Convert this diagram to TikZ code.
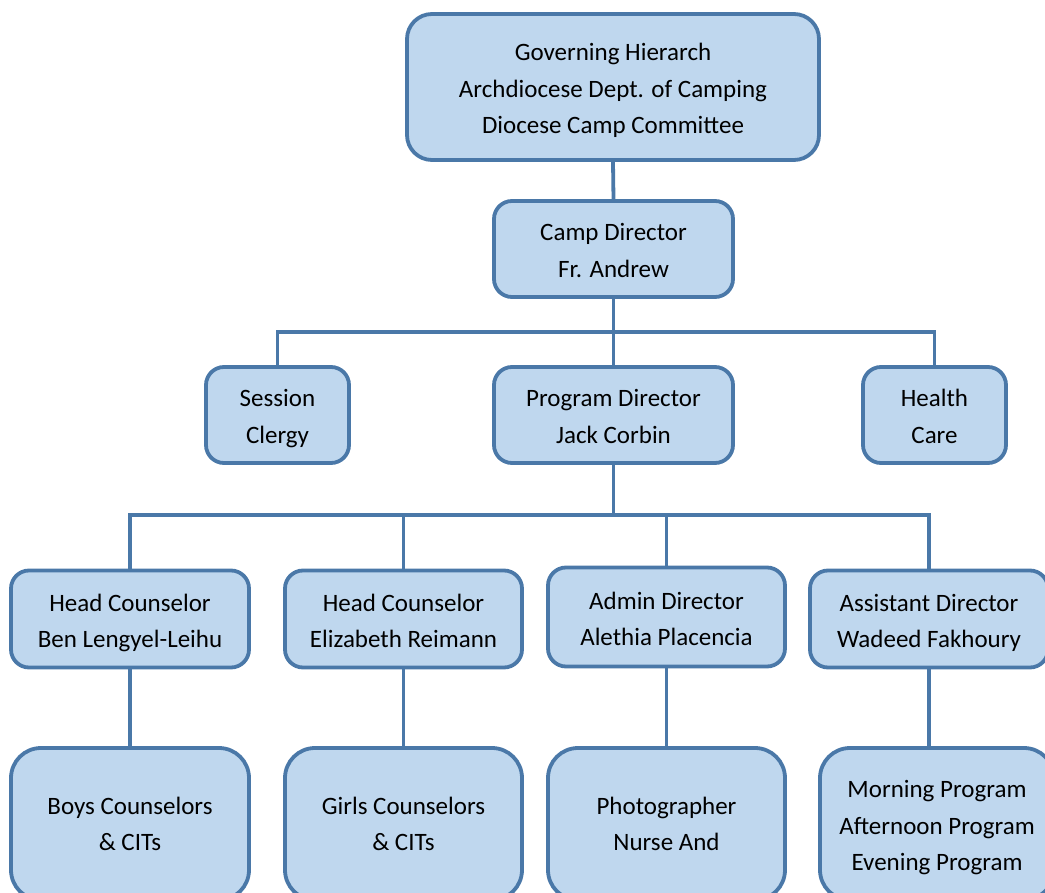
\documentclass[tikz,border=0pt]{standalone}
\usepackage{fontspec}
\setmainfont{Carlito}
\definecolor{boxfill}{HTML}{BFD7EE}
\definecolor{boxline}{HTML}{4A78A8}
\newcommand\mystrut{\rule[-5pt]{0pt}{30.5pt}}
\newcommand\deepstrut{\rule[-9pt]{0pt}{1pt}}
\begin{document}
\begin{tikzpicture}[x=1pt,y=-1pt,
  box/.style={draw=boxline, fill=boxfill, line width=3.8pt, rounded corners=18pt,
    align=center, inner sep=0pt, font=\fontsize{25}{36.5}\selectfont},
  conn/.style={draw=boxline, line width=3.8pt}]
\useasboundingbox (0,0) rectangle (1045,893);
\clip (0,0) rectangle (1045,893);
% level 0
\node[box, rounded corners=25pt, minimum width=412pt, minimum height=146pt] (top) at (613,87)
  {\mystrut Governing Hierarch\\\mystrut Archdiocese Dept. of Camping\\\mystrut Diocese Camp Committee};
% level 1
\node[box, minimum width=239pt, minimum height=96pt] (cd) at (613.5,249) {\mystrut Camp Director\\\mystrut Fr. Andrew};
% level 2
\node[box, minimum width=143pt, minimum height=96pt] (sc) at (277.5,415) {\mystrut Session\\\mystrut Clergy};
\node[box, minimum width=239pt, minimum height=96pt] (pd) at (613.5,415) {\mystrut Program Director\\\mystrut Jack Corbin};
\node[box, minimum width=143pt, minimum height=96pt] (hc) at (934.5,415) {\mystrut Health\\\mystrut Care};
% level 3
\node[box, minimum width=238pt, minimum height=97pt] (ben) at (130,619) {\mystrut Head Counselor\\\mystrut Ben Lengyel-Leihu};
\node[box, minimum width=237pt, minimum height=97pt] (eli) at (403.5,619) {\mystrut Head Counselor\\\mystrut Elizabeth Reimann};
\node[box, minimum width=237pt, minimum height=99pt] (ale) at (666.5,617) {\mystrut Admin Director\\\mystrut Alethia Placencia};
\node[box, minimum width=238pt, minimum height=97pt] (wad) at (929,619) {\mystrut Assistant Director\\\mystrut Wadeed Fakhoury};
% level 4
\node[box, rounded corners=30pt, minimum width=238pt, minimum height=152pt] (boys) at (130,824) {\mystrut Boys Counselors\\\mystrut \& CITs\deepstrut};
\node[box, rounded corners=30pt, minimum width=237pt, minimum height=152pt] (girls) at (403.5,824) {\mystrut Girls Counselors\\\mystrut \& CITs\deepstrut};
\node[box, rounded corners=30pt, minimum width=237pt, minimum height=152pt] (photo) at (666.5,824) {\mystrut Photographer\\\mystrut Nurse And\deepstrut};
\node[box, rounded corners=30pt, minimum width=234pt, minimum height=152pt] (morn) at (937,824) {\mystrut Morning Program\\\mystrut Afternoon Program\\\mystrut Evening Program};
% junctions
\coordinate (j1) at (613.5,332);
\coordinate (j2) at (613.5,515);
% connectors
\draw[conn] (top.south) -- (cd.north);
\draw[conn] (cd.south) -- (pd.north);
\draw[conn] (j1) -| (sc.north);
\draw[conn] (j1) -| (hc.north);
\draw[conn] (pd.south) -- (j2);
\draw[conn] (j2) -| (ben.north);
\draw[conn] (j2) -| (eli.north);
\draw[conn] (j2) -| (ale.north);
\draw[conn] (j2) -| (wad.north);
\draw[conn] (ben.south) -- (boys.north);
\draw[conn] (eli.south) -- (girls.north);
\draw[conn] (ale.south) -- (photo.north);
\draw[conn] (wad.south) -- (wad.south |- morn.north);
\end{tikzpicture}
\end{document}
